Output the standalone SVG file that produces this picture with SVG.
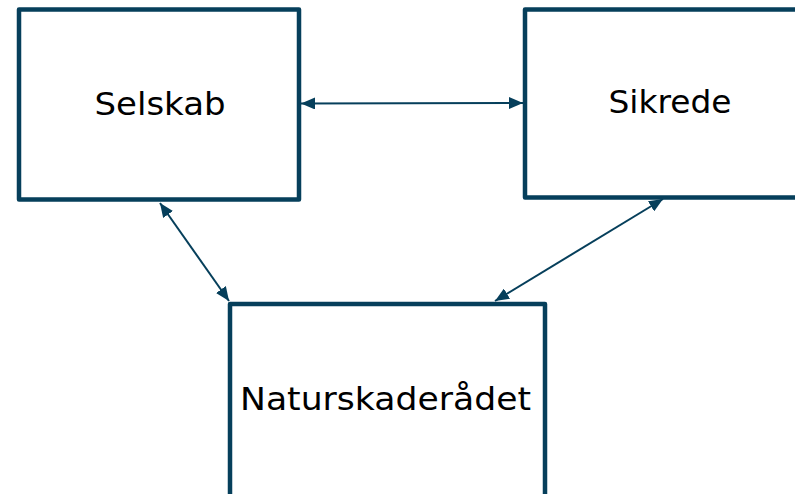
<svg xmlns="http://www.w3.org/2000/svg" width="795" height="494" viewBox="0 0 795 494">
<style>
.box{fill:#fff;stroke:#063f5b;stroke-width:4.5;stroke-linejoin:round}
.lbl{font-family:"DejaVu Sans","Noto Sans",sans-serif;font-size:32px;fill:#000;text-anchor:middle}
.con{stroke:#063f5b;stroke-width:2;fill:none;marker-start:url(#ah);marker-end:url(#ah)}
</style>
<defs>
<marker id="ah" viewBox="0 0 14 12" refX="14" refY="6" markerWidth="14" markerHeight="12" markerUnits="userSpaceOnUse" orient="auto-start-reverse">
<path d="M0,0 L14,6 L0,12 z" fill="#063f5b"/>
</marker>
</defs>
<rect width="795" height="494" fill="#fff"/>
<g id="connectors">
<line class="con" x1="301" y1="103.5" x2="523" y2="103"/>
<line class="con" x1="160" y1="203" x2="229" y2="301"/>
<line class="con" x1="663" y1="199" x2="495" y2="301"/>
</g>
<g id="selskab">
<rect class="box" x="19" y="9.5" width="280" height="190"/>
<text class="lbl" x="160" y="115" textLength="131" lengthAdjust="spacingAndGlyphs">Selskab</text>
</g>
<g id="sikrede">
<rect class="box" x="525" y="9.5" width="285" height="188"/>
<text class="lbl" x="670" y="113" textLength="123" lengthAdjust="spacingAndGlyphs">Sikrede</text>
</g>
<g id="naturskaderaadet">
<rect class="box" x="230" y="304" width="315" height="200"/>
<text class="lbl" x="385.5" y="410" textLength="291" lengthAdjust="spacingAndGlyphs">Naturskaderådet</text>
</g>
</svg>
